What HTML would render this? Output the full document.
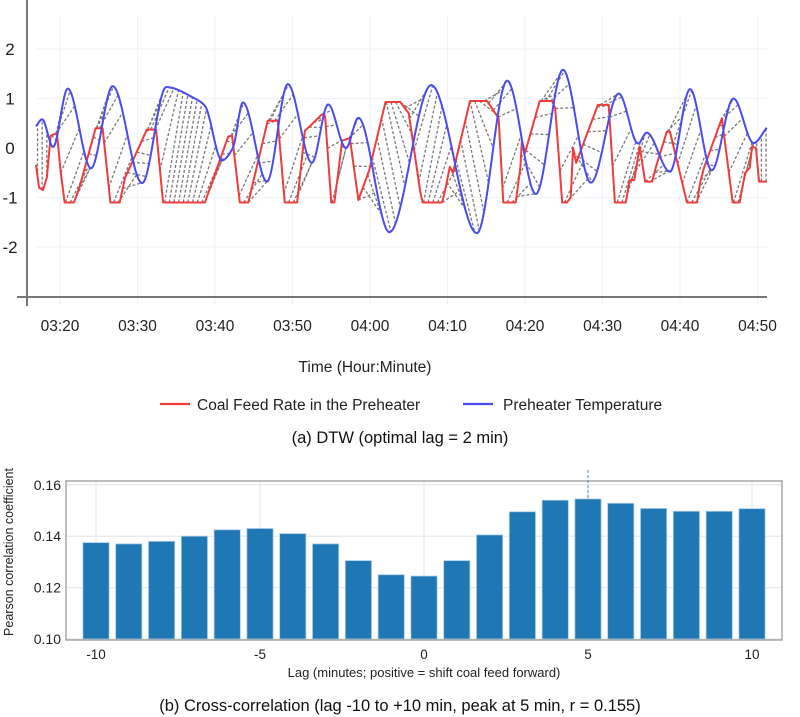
<!DOCTYPE html>
<html><head><meta charset="utf-8"><style>
body{margin:0;background:#fff;width:800px;height:717px;overflow:hidden;font-family:"Liberation Sans",sans-serif}
svg{display:block}
</style></head><body>
<svg id="chart" width="800" height="717" viewBox="0 0 800 717">
<g id="topchart"></g>
<g id="botchart"></g>
</svg>
<script>
// ---------- Data: top chart (minutes after 03:00, standardized value) ----------
const redT=[16.9,17.3,17.8,18.3,18.8,19.6,20.1,20.6,21.8,22.5,24.6,25.5,26.5,27.7,28.4,31.2,32.4,33.3,38.7,41.7,42.2,43.2,44.3,46.8,48.1,49.0,50.6,51.6,52.3,53.8,54.2,55.0,55.4,55.9,56.4,57.4,58.5,59.9,62.0,63.9,65.0,66.5,66.8,69.3,69.7,70.3,70.7,72.9,75.1,76.6,77.2,78.8,79.4,79.6,80.0,81.9,83.5,83.9,84.8,85.4,85.9,86.2,86.6,89.4,90.8,91.6,93.0,93.5,94.1,94.8,95.5,96.4,96.9,98.3,98.7,100.9,102.2,102.6,103.1,105.4,106.8,107.7,108.4,109.0,109.3,109.8,110.2,111.2];
const redV=[-0.34,-0.8,-0.85,-0.6,0.25,0.3,-0.5,-1.1,-1.1,-0.8,0.4,0.4,-1.1,-1.1,-0.6,0.37,0.37,-1.1,-1.1,0.23,0.25,-1.1,-1.1,0.55,0.55,-1.1,-1.1,0.35,0.45,0.68,0.65,-1.1,-1.1,-0.5,0.15,0.2,-1.05,-0.45,0.93,0.93,0.7,-0.9,-1.1,-1.1,-0.85,-0.38,-0.5,0.95,0.95,0.6,-1.1,-1.1,-0.4,0.15,-0.1,0.95,0.95,0.8,-1.1,-1.1,-1.0,0.0,-0.3,0.87,0.87,-1.1,-1.1,-0.65,-0.65,0.03,-0.68,-0.68,-0.38,0.33,0.33,-1.1,-1.1,-0.7,-0.4,0.6,-1.1,-1.1,-0.5,-0.4,0.03,0.0,-0.68,-0.68];
const blueT=[16.9,17.7,19.1,21.0,24.0,26.8,30.6,33.7,37.4,38.7,40.9,42.3,43.6,46.7,49.4,52.5,54.6,56.9,58.5,62.5,67.9,73.8,77.7,81.4,84.9,88.5,92.1,94.6,95.7,98.7,101.3,104.1,106.9,109.5,111.2];
const blueV=[0.44,0.58,0.02,1.2,-0.41,1.25,-0.71,1.23,1.0,0.85,-0.25,0.0,0.92,-0.68,1.29,-0.3,0.88,0.0,0.61,-1.7,1.27,-1.72,1.36,-0.93,1.58,-0.7,1.1,0.09,0.31,-0.48,1.19,-0.45,1.0,0.1,0.41];
const xTickMin=[20,30,40,50,60,70,80,90,100,110];
const xTickLbl=["03:20","03:30","03:40","03:50","04:00","04:10","04:20","04:30","04:40","04:50"];
const yTicks=[2,1,0,-1,-2];
// ---------- Data: bottom chart ----------
const lags=[-10,-9,-8,-7,-6,-5,-4,-3,-2,-1,0,1,2,3,4,5,6,7,8,9,10];
const corr=[0.1375,0.137,0.138,0.140,0.1425,0.143,0.141,0.137,0.1305,0.125,0.1245,0.1305,0.1405,0.1495,0.154,0.1545,0.1528,0.1508,0.1497,0.1497,0.1507];
const corrTicks=[0.10,0.12,0.14,0.16];
const lagTicks=[-10,-5,0,5,10];

const NS="http://www.w3.org/2000/svg";
function mk(parent,tag,attrs,text){const el=document.createElementNS(NS,tag);for(const k in attrs)el.setAttribute(k,attrs[k]);if(text!==undefined)el.textContent=text;parent.appendChild(el);return el;}

// ---- top axes
const X=t=>60+(t-20)*7.75, Y=v=>148-49.5*v;
const topG=document.getElementById('topchart');
const grid=mk(topG,'g',{});


xTickMin.forEach(t=>mk(grid,'line',{x1:X(t),x2:X(t),y1:15,y2:305,stroke:'#eef2fa','stroke-width':1}));
yTicks.forEach(v=>mk(grid,'line',{x1:36,x2:767,y1:Y(v),y2:Y(v),stroke:'#eef2fa','stroke-width':1}));
yTicks.forEach(v=>{const t=mk(topG,'text',{x:10,y:Y(v)+6,'font-size':17,'text-anchor':'middle',fill:'#222'},String(v));
 
 });
xTickMin.forEach((t,k)=>{const el=mk(topG,'text',{x:X(t),y:331,'font-size':15.5,'text-anchor':'middle',fill:'#222'},xTickLbl[k]);
 
 });
const ya=mk(topG,'line',{x1:27,x2:27,y1:0,y2:306,stroke:'#333','stroke-width':1.3});


const xa=mk(topG,'line',{x1:17,x2:767,y1:297,y2:297,stroke:'#777','stroke-width':2});



// interpolation
function lin(TT,VV,t){if(t<=TT[0])return VV[0];for(let q=1;q<TT.length;q++)if(t<=TT[q]){const f=(t-TT[q-1])/(TT[q]-TT[q-1]);return VV[q-1]+f*(VV[q]-VV[q-1]);}return VV[VV.length-1];}
function monoTan(TT,VV){const nn=TT.length,d=[],m=[];for(let q=0;q<nn-1;q++)d.push((VV[q+1]-VV[q])/(TT[q+1]-TT[q]));
 m[0]=d[0];m[nn-1]=d[nn-2];for(let q=1;q<nn-1;q++){m[q]=(d[q-1]*d[q]<=0)?0:2/(1/d[q-1]+1/d[q]);}return m;}
const bm=monoTan(blueT,blueV);
function mono(t){const TT=blueT,VV=blueV;if(t<=TT[0])return VV[0];for(let q=1;q<TT.length;q++)if(t<=TT[q]){const h=TT[q]-TT[q-1],s=(t-TT[q-1])/h;
 const h00=2*s*s*s-3*s*s+1,h10=s*s*s-2*s*s+s,h01=-2*s*s*s+3*s*s,h11=s*s*s-s*s;return h00*VV[q-1]+h10*h*bm[q-1]+h01*VV[q]+h11*h*bm[q];}return VV[VV.length-1];}

// sample + DTW (Sakoe-Chiba band)
const step=0.2,t0=16.9,t1=111.2,ts=[];for(let t=t0;t<=t1+1e-9;t+=step)ts.push(t);
const rs=ts.map(t=>lin(redT,redV,t)),bs=ts.map(t=>mono(t));
const nS=ts.length,INF=1e18,BAND=12,D=[];for(let a=0;a<nS;a++)D.push(new Float64Array(nS).fill(INF));
for(let a=0;a<nS;a++)for(let b=Math.max(0,a-BAND);b<=Math.min(nS-1,a+BAND);b++){const c=Math.abs(rs[a]-bs[b]);if(a===0&&b===0){D[a][b]=c;continue;}
 let mn=INF;if(a>0)mn=Math.min(mn,D[a-1][b]);if(b>0)mn=Math.min(mn,D[a][b-1]);if(a>0&&b>0)mn=Math.min(mn,D[a-1][b-1]);D[a][b]=c+mn;}
let pi=nS-1,pj=nS-1;const path=[[pi,pj]];
while(pi>0||pj>0){if(pi===0)pj--;else if(pj===0)pi--;else{const a=D[pi-1][pj-1],b=D[pi-1][pj],c=D[pi][pj-1];if(a<=b&&a<=c){pi--;pj--;}else if(b<=c)pi--;else pj--;}path.push([pi,pj]);}
const dtw=mk(topG,'g',{stroke:'#7a7a7a','stroke-width':1.3,'stroke-dasharray':'3,2',fill:'none'});


path.forEach((p,k)=>{if(k%3)return;mk(dtw,'line',{x1:X(ts[p[0]]),y1:Y(rs[p[0]]),x2:X(ts[p[1]]),y2:Y(bs[p[1]])});});

const redPath=mk(topG,'polyline',{points:redT.map((t,k)=>X(t)+','+Y(redV[k])).join(' '),fill:'none',stroke:'#f03c3c','stroke-width':2,'stroke-linejoin':'round'});


const bluePts=[];for(let t=t0;t<=t1+1e-9;t+=0.1)bluePts.push(X(t)+','+Y(mono(t)));
const bluePath=mk(topG,'polyline',{points:bluePts.join(' '),fill:'none',stroke:'#4b4bf0','stroke-width':2,'stroke-linejoin':'round'});



let el=mk(topG,'text',{x:365,y:372,'font-size':15.5,'text-anchor':'middle',fill:'#222'},'Time (Hour:Minute)');


const leg=mk(topG,'g',{});


mk(leg,'line',{x1:160,x2:190,y1:404,y2:404,stroke:'#f03c3c','stroke-width':2.2});
el=mk(leg,'text',{x:197,y:410,'font-size':15.5,fill:'#222'},'Coal Feed Rate in the Preheater');


mk(leg,'line',{x1:463,x2:493,y1:404,y2:404,stroke:'#4b4bf0','stroke-width':2.2});
el=mk(leg,'text',{x:503,y:410,'font-size':15.5,fill:'#222'},'Preheater Temperature');


el=mk(topG,'text',{x:400,y:443,'font-size':16.5,'text-anchor':'middle',fill:'#111'},'(a) DTW (optimal lag = 2 min)');



// ---- bottom chart
const botG=document.getElementById('botchart');
const BX=l=>424+l*32.8, BY=v=>639-(v-0.10)*2570;
const PL=66,PR=782,PT=481,PB=640;
corrTicks.forEach(v=>mk(botG,'line',{x1:PL,x2:PR,y1:BY(v),y2:BY(v),stroke:'#e6e6e6','stroke-width':1}));
lagTicks.forEach(l=>mk(botG,'line',{x1:BX(l),x2:BX(l),y1:PT,y2:PB,stroke:'#e6e6e6','stroke-width':1}));
const bars=mk(botG,'g',{});


lags.forEach((l,k)=>{const y=BY(corr[k]);const r=mk(bars,'rect',{x:BX(l)-13.1,y:y,width:26.2,height:BY(0.10)-y,fill:'#1f77b4',stroke:'#a9cbe6','stroke-width':0.8});
 
 });
const fr=mk(botG,'rect',{x:PL,y:PT,width:PR-PL,height:PB-PT,fill:'none',stroke:'#9a9a9a','stroke-width':1.3});


const pk=lags[corr.indexOf(Math.max(...corr))];
el=mk(botG,'line',{x1:BX(pk),x2:BX(pk),y1:470,y2:BY(Math.max(...corr)),stroke:'#4a8ac4','stroke-width':1,'stroke-dasharray':'3,2'});


corrTicks.forEach(v=>{const t=mk(botG,'text',{x:61,y:BY(v)+5,'font-size':14,'text-anchor':'end',fill:'#222'},v.toFixed(2));
 
 });
lagTicks.forEach(l=>{const t=mk(botG,'text',{x:BX(l),y:659,'font-size':13.5,'text-anchor':'middle',fill:'#222'},String(l));
 
 });
el=mk(botG,'text',{x:424,y:677,'font-size':13,'text-anchor':'middle',fill:'#222'},'Lag (minutes; positive = shift coal feed forward)');


el=mk(botG,'text',{x:0,y:0,'font-size':12.5,'text-anchor':'middle',fill:'#222',transform:'translate(13,552) rotate(-90)'},'Pearson correlation coefficient');


el=mk(botG,'text',{x:400,y:711,'font-size':16.5,'text-anchor':'middle',fill:'#111'},'(b) Cross-correlation (lag -10 to +10 min, peak at 5 min, r = 0.155)');


</script>
</body></html>
